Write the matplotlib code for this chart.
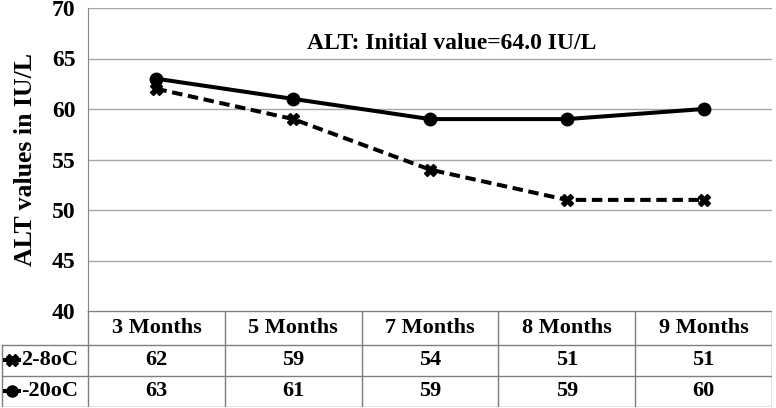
import matplotlib.pyplot as plt
import numpy as np

months = ['3 Months', '5 Months', '7 Months', '8 Months', '9 Months']
series_names = ['2-8oC', '-20oC']
vals_cold = [62, 59, 54, 51, 51]
vals_frozen = [63, 61, 59, 59, 60]
title = 'ALT: Initial value=64.0 IU/L'
ylabel = 'ALT values in IU/L'

plt.rcParams['font.family'] = ['Liberation Serif', 'DejaVu Serif']
plt.rcParams['font.weight'] = 'bold'

W, H = 776, 408
fig = plt.figure(figsize=(W / 100, H / 100), dpi=100)

# main plot area (pixel layout)
left, right, top, bottom = 88, 772, 8, 311
ax = fig.add_axes([left / W, 1 - bottom / H, (right - left) / W, (bottom - top) / H])
x = np.arange(len(months))
ax.plot(x, vals_cold, color='black', lw=2.9, ls=(0, (2.6, 1.4)),
        marker='X', ms=9, zorder=3)
ax.plot(x, vals_frozen, color='black', lw=2.9, ls='-',
        marker='o', ms=9, zorder=3)
ax.set_xlim(-0.5, len(months) - 0.5)
ax.set_ylim(40, 70)
ax.set_yticks(np.arange(40, 71, 5))
ax.tick_params(axis='y', labelsize=17, length=0, pad=9)
ax.set_xticks([])
ax.grid(axis='y', color='#a6a6a6', lw=1)
for s in ['top', 'right', 'bottom']:
    ax.spines[s].set_visible(False)
ax.spines['left'].set_color('#868686')
ax.set_ylabel(ylabel, fontsize=18.5, fontweight='bold')
ax.yaxis.set_label_coords(-0.074, 0.5)
ax.text(0.532, 0.884, title, transform=ax.transAxes, ha='center', va='center',
        fontsize=17, fontweight='bold')

# data table underneath
colw = (right - left) / len(months)
lab_w = left / colw
tax = fig.add_axes([0, 1 - 407 / H, right / W, (407 - bottom) / H])
tax.set_xlim(-0.5 - lab_w, len(months) - 0.5)
tax.set_ylim(3.0, 0)
tax.axis('off')
row_edges = [0, 1.05, 2.03, 3.0]
gc = '#7f7f7f'
x0 = -0.5 - lab_w + 0.015
x1 = len(months) - 0.5
tax.plot([-0.5, x1], [0, 0], color=gc, lw=1)
for r in row_edges[1:]:
    tax.plot([x0, x1], [r, r], color=gc, lw=1)
tax.plot([x0, x0], [row_edges[1], row_edges[3]], color=gc, lw=1)
for i in range(len(months) + 1):
    tax.plot([i - 0.5, i - 0.5], [0, 3.0], color=gc, lw=1)

def rowc(k):
    return (row_edges[k] + row_edges[k + 1]) / 2

for i, m in enumerate(months):
    tax.text(i, rowc(0), m, ha='center', va='center', fontsize=16)
    tax.text(i, rowc(1), str(vals_cold[i]), ha='center', va='center', fontsize=16)
    tax.text(i, rowc(2), str(vals_frozen[i]), ha='center', va='center', fontsize=16)

key_markers = ['X', 'o']
for k, name in enumerate(series_names):
    yk = rowc(k + 1)
    tax.plot([x0 + 0.005, x0 + 0.07, x0 + 0.135], [yk, yk, yk], color='black',
             lw=2.9, marker=key_markers[k], ms=8, markevery=[1],
             solid_capstyle='butt')
    tax.text(x0 + 0.14, yk, name, ha='left', va='center', fontsize=16)

fig.savefig('out.png', dpi=100)
